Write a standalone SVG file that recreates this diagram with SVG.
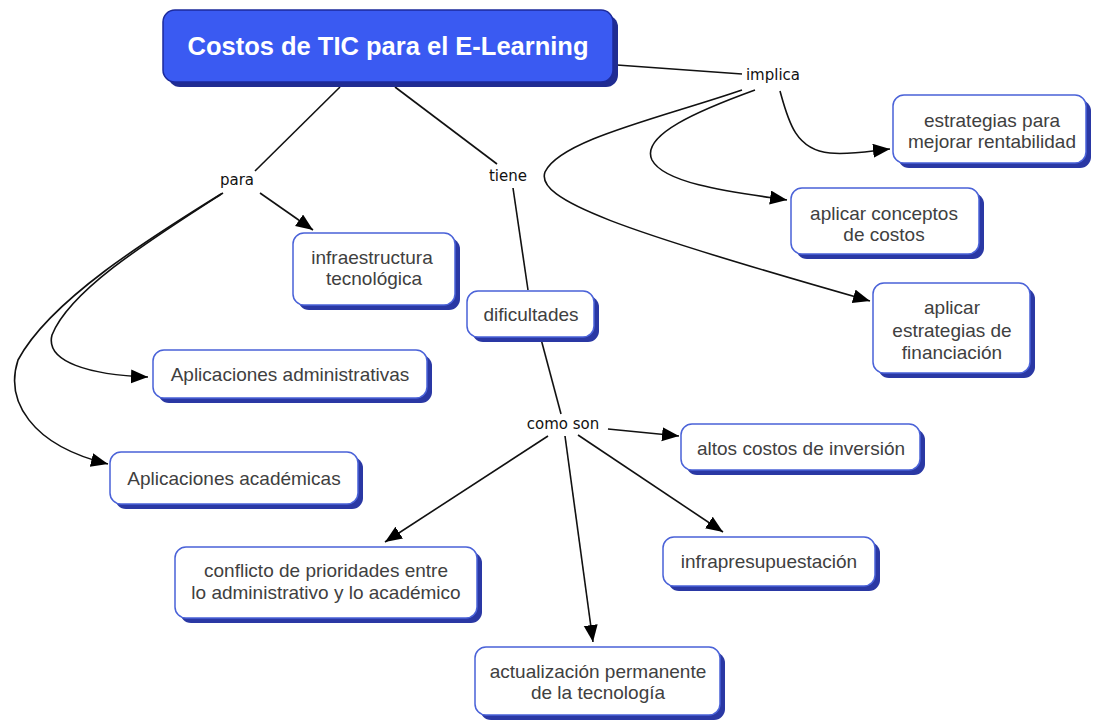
<svg xmlns="http://www.w3.org/2000/svg" width="1101" height="722" viewBox="0 0 1101 722">
<defs>
<marker id="arr" markerUnits="userSpaceOnUse" markerWidth="20" markerHeight="16" refX="17" refY="7" orient="auto">
<path d="M0,0 L17,7 L0,14 z" fill="#000"/>
</marker>
<style>
.sh{fill:#2a38a4}
.bx{fill:#fff;stroke:#4a62d8;stroke-width:1.5}
.t{font-family:"Liberation Sans",Arial,sans-serif;font-size:19px;fill:#404040;text-anchor:middle}
.lb{font-family:"DejaVu Sans",Verdana,sans-serif;font-size:15px;fill:#111;text-anchor:middle}
.c{fill:none;stroke:#111;stroke-width:1.6}
.a{marker-end:url(#arr)}
</style>
</defs>
<rect width="1101" height="722" fill="#fff"/>

<g id="connectors">
<path class="c" d="M340,87 L255,171"/>
<path class="c a" d="M260,193 L313,230"/>
<path class="c a" d="M223,193 C150,240 70,290 52,335 C45,362 90,375 148,377"/>
<path class="c a" d="M221,194 C150,238 50,300 18,360 C5,400 30,445 108,464"/>
<path class="c" d="M395,87 L497,164"/>
<path class="c" d="M513,188 L528,290"/>
<path class="c" d="M541,339 L561,414"/>
<path class="c a" d="M608,429 L679,436"/>
<path class="c a" d="M578,435 L723,532"/>
<path class="c a" d="M565,436 L593,642"/>
<path class="c a" d="M548,436 L385,542"/>
<path class="c" d="M617,65 L742,74"/>
<path class="c a" d="M780,91 C788,120 795,150 830,153 C850,155 870,151 890,149"/>
<path class="c a" d="M755,90 C700,110 640,135 652,160 C665,185 740,193 787,200"/>
<path class="c a" d="M742,90 C660,118 560,140 545,172 C535,200 620,230 870,301"/>
</g>

<g id="labels">
<text class="lb" x="237" y="185">para</text>
<text class="lb" x="508" y="181">tiene</text>
<text class="lb" x="773" y="80">implica</text>
<text class="lb" x="563" y="429">como son</text>
</g>

<g id="n-title">
<rect x="168" y="15" width="450" height="72" rx="12" fill="#202c92"/>
<rect x="163" y="10" width="450" height="72" rx="12" fill="#3a5af2" stroke="#1c2a9c" stroke-width="1.5"/>
<text x="388" y="55" font-family="Liberation Sans,Arial,sans-serif" font-size="25.5" font-weight="bold" fill="#fff" text-anchor="middle">Costos de TIC para el E-Learning</text>
</g>

<g id="n-estrategias">
<rect class="sh" x="898" y="100" width="193" height="68" rx="11"/>
<rect class="bx" x="893" y="95" width="193" height="68" rx="11"/>
<text class="t" x="992" y="127">estrategias para</text>
<text class="t" x="992" y="148">mejorar rentabilidad</text>
</g>

<g id="n-conceptos">
<rect class="sh" x="796" y="193" width="188" height="66" rx="11"/>
<rect class="bx" x="791" y="188" width="188" height="66" rx="11"/>
<text class="t" x="884" y="220">aplicar conceptos</text>
<text class="t" x="884" y="241">de costos</text>
</g>

<g id="n-financiacion">
<rect class="sh" x="878" y="288" width="157" height="90" rx="11"/>
<rect class="bx" x="873" y="283" width="157" height="90" rx="11"/>
<text class="t" x="952" y="314">aplicar</text>
<text class="t" x="952" y="337">estrategias de</text>
<text class="t" x="952" y="359">financiación</text>
</g>

<g id="n-infraestructura">
<rect class="sh" x="298" y="238" width="162" height="72" rx="11"/>
<rect class="bx" x="293" y="233" width="162" height="72" rx="11"/>
<text class="t" x="372" y="264">infraestructura</text>
<text class="t" x="374" y="285">tecnológica</text>
</g>

<g id="n-dificultades">
<rect class="sh" x="472" y="296" width="127" height="46" rx="11"/>
<rect class="bx" x="467" y="291" width="127" height="46" rx="11"/>
<text class="t" x="531" y="321">dificultades</text>
</g>

<g id="n-administrativas">
<rect class="sh" x="158" y="355" width="274" height="48" rx="11"/>
<rect class="bx" x="153" y="350" width="274" height="48" rx="11"/>
<text class="t" x="290" y="381">Aplicaciones administrativas</text>
</g>

<g id="n-academicas">
<rect class="sh" x="115" y="457" width="248" height="52" rx="11"/>
<rect class="bx" x="110" y="452" width="248" height="52" rx="11"/>
<text class="t" x="234" y="485">Aplicaciones académicas</text>
</g>

<g id="n-altos">
<rect class="sh" x="686" y="429" width="239" height="46" rx="11"/>
<rect class="bx" x="681" y="424" width="239" height="46" rx="11"/>
<text class="t" x="801" y="455">altos costos de inversión</text>
</g>

<g id="n-infrapresupuestacion">
<rect class="sh" x="668" y="542" width="212" height="49" rx="11"/>
<rect class="bx" x="663" y="537" width="212" height="49" rx="11"/>
<text class="t" x="769" y="568">infrapresupuestación</text>
</g>

<g id="n-conflicto">
<rect class="sh" x="180" y="552" width="302" height="71" rx="11"/>
<rect class="bx" x="175" y="547" width="302" height="71" rx="11"/>
<text class="t" x="326" y="577">conflicto de prioridades entre</text>
<text class="t" x="326" y="599">lo administrativo y lo académico</text>
</g>

<g id="n-actualizacion">
<rect class="sh" x="480" y="652" width="245" height="68" rx="11"/>
<rect class="bx" x="475" y="647" width="245" height="68" rx="11"/>
<text class="t" x="598" y="678">actualización permanente</text>
<text class="t" x="598" y="699">de la tecnología</text>
</g>
</svg>
